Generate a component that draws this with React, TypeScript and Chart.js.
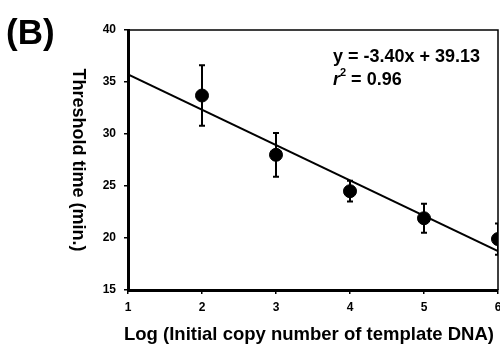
import React, { useEffect, useRef } from "react";
import { Chart, registerables } from "chart.js";

Chart.register(...registerables);

const logCopies = [2, 3, 4, 5, 6];
const thresholdTime = [33.7, 28.0, 24.5, 21.9, 19.9];
const errorSize = [2.9, 2.1, 1.0, 1.4, 1.5];
const fitSlope = -3.4;
const fitIntercept = 39.13;
const fitRange = [1, 6];
const yTicks = [15, 20, 25, 30, 35, 40];
const xTicks = [1, 2, 3, 4, 5, 6];
const equationText = "y = -3.40x + 39.13";
const r2Value = "0.96";
const panelLabel = "(B)";
const xTitle = "Log (Initial copy number of template DNA)";
const yTitle = "Threshold time (min.)";

const FONT = "'Liberation Sans', Arial, sans-serif";

const extrasPlugin = {
  id: "extras",
  afterDatasetsDraw(chart: any) {
    const ctx = chart.ctx;
    const { left, right, top, bottom } = chart.chartArea;
    const xs = chart.scales.x;
    const ys = chart.scales.y;
    ctx.save();
    ctx.beginPath();
    ctx.rect(left, top, right - left, bottom - top);
    ctx.clip();
    ctx.strokeStyle = "#000";
    ctx.lineWidth = 2;
    logCopies.forEach((x, i) => {
      const px = xs.getPixelForValue(x);
      const y1 = ys.getPixelForValue(thresholdTime[i] + errorSize[i]);
      const y2 = ys.getPixelForValue(thresholdTime[i] - errorSize[i]);
      ctx.beginPath();
      ctx.moveTo(px, y1);
      ctx.lineTo(px, y2);
      ctx.moveTo(px - 3, y1);
      ctx.lineTo(px + 3, y1);
      ctx.moveTo(px - 3, y2);
      ctx.lineTo(px + 3, y2);
      ctx.stroke();
    });
    ctx.restore();
  },
  afterDraw(chart: any) {
    const ctx = chart.ctx;
    const { left, right, top, bottom } = chart.chartArea;
    ctx.save();
    ctx.strokeStyle = "#000";
    ctx.lineWidth = 1.5;
    ctx.beginPath();
    ctx.moveTo(left, top);
    ctx.lineTo(right, top);
    ctx.lineTo(right, bottom);
    ctx.stroke();
    ctx.fillStyle = "#000";
    ctx.font = `bold 35px ${FONT}`;
    ctx.textBaseline = "alphabetic";
    ctx.textAlign = "left";
    ctx.fillText(panelLabel, 6, 44);
    ctx.font = `bold 18px ${FONT}`;
    ctx.fillText(equationText, 333, 62);
    ctx.font = `italic bold 18px ${FONT}`;
    ctx.fillText("r", 333, 85);
    let w = ctx.measureText("r").width;
    ctx.font = `bold 11px ${FONT}`;
    ctx.fillText("2", 333 + w, 76);
    w += ctx.measureText("2").width;
    ctx.font = `bold 18px ${FONT}`;
    ctx.fillText(" = " + r2Value, 333 + w, 85);
    ctx.textAlign = "center";
    ctx.font = `bold 18.5px ${FONT}`;
    ctx.fillText(xTitle, 309, 340);
    ctx.font = `bold 18px ${FONT}`;
    ctx.translate(78, 160);
    ctx.rotate(Math.PI / 2);
    ctx.textBaseline = "middle";
    ctx.fillText(yTitle, 0, 0);
    ctx.restore();
  },
};

export default function App() {
  const ref = useRef<HTMLCanvasElement>(null);
  useEffect(() => {
    document.body.style.margin = "0";
    const fitLine = fitRange.map((x) => ({ x, y: fitSlope * x + fitIntercept }));
    const chart = new Chart(ref.current!, {
      type: "scatter",
      data: {
        datasets: [
          {
            type: "line",
            data: fitLine,
            borderColor: "#000",
            borderWidth: 2,
            pointRadius: 0,
            showLine: true,
            clip: 0,
          } as any,
          {
            data: logCopies.map((x, i) => ({ x, y: thresholdTime[i] })),
            backgroundColor: "#000",
            borderColor: "#000",
            pointRadius: 6.5,
            clip: 0,
          } as any,
        ],
      },
      options: {
        responsive: false,
        animation: false,
        layout: { padding: { top: 30, right: 2, left: 0, bottom: 0 } },
        plugins: { legend: { display: false }, tooltip: { enabled: false } },
        scales: {
          x: {
            type: "linear",
            min: 1,
            max: 6,
            afterBuildTicks: (s: any) => {
              s.ticks = xTicks.map((v) => ({ value: v }));
            },
            afterFit: (s: any) => {
              s.height = 56;
              s.paddingLeft = 0;
              s.paddingRight = 0;
            },
            border: { display: true, color: "#000", width: 3 },
            grid: { drawOnChartArea: false, drawTicks: true, tickLength: 4, color: "#000", lineWidth: 1.5 },
            ticks: { color: "#000", font: { family: FONT, weight: "bold", size: 12 }, padding: 6 },
          },
          y: {
            type: "linear",
            min: 15,
            max: 40,
            afterBuildTicks: (s: any) => {
              s.ticks = yTicks.map((v) => ({ value: v }));
            },
            afterFit: (s: any) => {
              s.width = 128;
              s.paddingTop = 0;
              s.paddingBottom = 0;
            },
            border: { display: true, color: "#000", width: 3 },
            grid: { drawOnChartArea: false, drawTicks: true, tickLength: 4, color: "#000", lineWidth: 1.5 },
            ticks: { color: "#000", font: { family: FONT, weight: "bold", size: 12 }, padding: 8 },
          },
        },
      } as any,
      plugins: [extrasPlugin],
    });
    chart.data.datasets.forEach((_d: any, i: number) => {
      const c: any = chart.getDatasetMeta(i).controller;
      if (c) c.getMaxOverflow = () => 0;
    });
    chart.update();
    return () => chart.destroy();
  }, []);
  return <canvas ref={ref} width={500} height={346} style={{ display: "block" }} />;
}
